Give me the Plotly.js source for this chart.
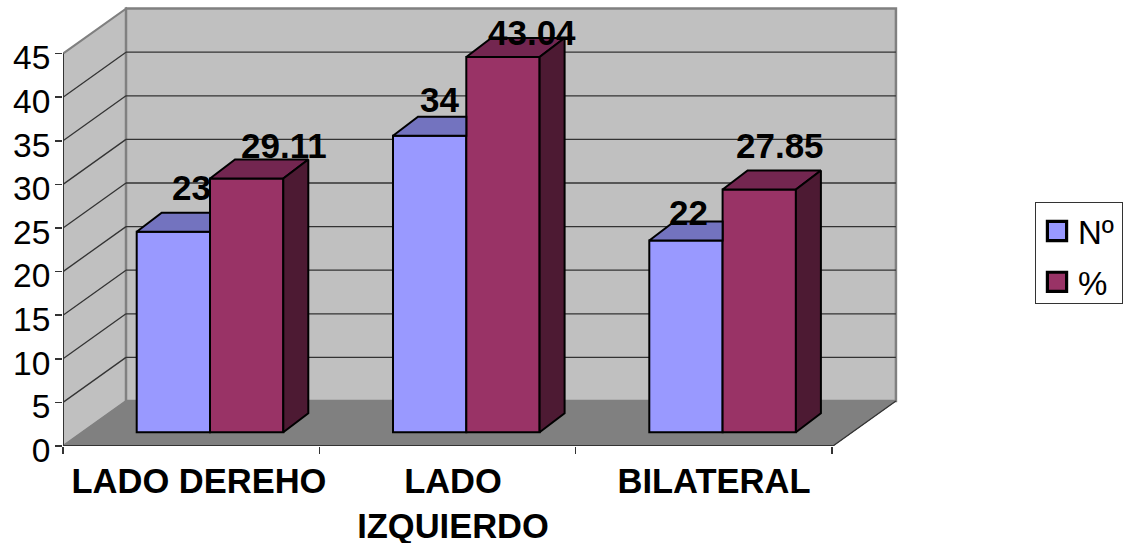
<!DOCTYPE html>
<html>
<head>
<meta charset="utf-8">
<script src="https://cdn.plot.ly/plotly-3.0.1.min.js"></script>
<style>html,body{margin:0;padding:0;background:#fff}#chart{width:1126px;height:543px}</style>
</head>
<body>
<div id="chart"></div>
<script>
// Values per category
var categories = ['LADO DEREHO', 'LADO<br>IZQUIERDO', 'BILATERAL'];
var countValues = [23, 34, 22];
var percentValues = [29.11, 43.04, 27.85];
var yTicks = [0, 5, 10, 15, 20, 25, 30, 35, 40, 45];

// Data-unit conversions for the oblique projection
var PX_X = 256.3, PX_Y = 8.72;
var wallDx = 63 / PX_X, wallDy = 45 / PX_Y;       // depth of the floor and side wall
var barDx = 25 / PX_X, barDy = 19 / PX_Y;         // depth of each column
var barBase = 13.7 / PX_Y;                        // columns stand a little back on the floor
var barStart = 73.7 / PX_X, barW = 73.3 / PX_X;   // offset inside a category, column width
var axisEnd = 3.004, yMax = 45;
var labelX = [136 / PX_X, 390 / PX_X, 651 / PX_X];

var BLACK = '#000000', WALL = '#C0C0C0', FLOOR = '#808080', EDGE = '#808080', GRID = '#333333';
var C1 = '#9999FF', C1_TOP = '#7373BF', C2 = '#993366', C2_TOP = '#732650', C2_SIDE = '#4D1A33';

function poly(pts, fill, lineColor, lineW) {
  return {
    type: 'path', layer: 'below', xref: 'x', yref: 'y',
    path: 'M' + pts.map(function (p) { return p[0] + ',' + p[1]; }).join('L') + 'Z',
    fillcolor: fill, line: {color: lineColor, width: lineW}
  };
}
function seg(x0, y0, x1, y1, color, w) {
  return {type: 'line', layer: 'below', xref: 'x', yref: 'y', x0: x0, y0: y0, x1: x1, y1: y1, line: {color: color, width: w}};
}

// Walls, floor and gridlines
var shapes = [
  poly([[0, 0], [wallDx, wallDy], [wallDx, yMax + wallDy], [0, yMax]], WALL, EDGE, 2),
  poly([[wallDx, wallDy], [axisEnd + wallDx, wallDy], [axisEnd + wallDx, yMax + wallDy], [wallDx, yMax + wallDy]], WALL, EDGE, 2.5)
];
yTicks.forEach(function (v) {
  if (v > 0 && v < yMax) {
    shapes.push(seg(0, v, wallDx, v + wallDy, GRID, 1.3));
    shapes.push(seg(wallDx, v + wallDy, axisEnd + wallDx, v + wallDy, GRID, 1.3));
  }
});
shapes.push(poly([[0, 0], [axisEnd, 0], [axisEnd + wallDx, wallDy], [wallDx, wallDy]], FLOOR, FLOOR, 1));
shapes.push(seg(axisEnd, 0, axisEnd + wallDx, wallDy, GRID, 1.3));

var xs = categories.map(function (_, i) { return i + barStart; });
var xCount = xs.map(function (x) { return x + barW / 2; });
var xPercent = xs.map(function (x) { return x + barW * 1.5; });

var traces = [
  {type: 'bar', name: 'Nº', legendgroup: 'a', x: xCount, y: countValues, base: barBase, width: barW,
   marker: {color: C1, line: {color: BLACK, width: 2}}, hoverinfo: 'skip'},
  {type: 'bar', name: '%', legendgroup: 'b', x: xPercent, y: percentValues, base: barBase, width: barW,
   marker: {color: C2, line: {color: BLACK, width: 2}}, hoverinfo: 'skip'}
];

function face(pts, fill) {
  traces.push({
    type: 'scatter', mode: 'lines', showlegend: false, hoverinfo: 'skip', fill: 'toself', fillcolor: fill,
    x: pts.map(function (p) { return p[0]; }).concat(pts[0][0]),
    y: pts.map(function (p) { return p[1]; }).concat(pts[0][1]),
    line: {color: BLACK, width: 2, shape: 'linear'}
  });
}

categories.forEach(function (_, i) {
  var x0 = xs[i], x1 = x0 + barW, x2 = x1 + barW;
  var a = barBase + countValues[i], b = barBase + percentValues[i];
  // The shorter column's top runs back behind its taller neighbour
  face([[x0, a], [x1, a], [x1, a + barDy], [x0 + barDx, a + barDy]], C1_TOP);
  face([[x1, b], [x2, b], [x2 + barDx, b + barDy], [x1 + barDx, b + barDy]], C2_TOP);
  face([[x2, barBase], [x2, b], [x2 + barDx, b + barDy], [x2 + barDx, barBase + barDy]], C2_SIDE);
});

// Axis lines along the front edge
traces.push({type: 'scatter', mode: 'lines', showlegend: false, hoverinfo: 'skip', cliponaxis: false,
  x: [0, 0], y: [0, yMax], line: {color: GRID, width: 2}});
traces.push({type: 'scatter', mode: 'lines', showlegend: false, hoverinfo: 'skip', cliponaxis: false,
  x: [0, axisEnd], y: [0, 0], line: {color: GRID, width: 2}});

// Value labels sit above and behind each column
var shiftCount = [[18, 44], [10, 36], [3, 28]];
var shiftPercent = [[37, 33], [29, 24], [21, 44]];
var annotations = [];
function addLabels(xv, vals, shifts) {
  vals.forEach(function (v, i) {
    annotations.push({x: xv[i], y: barBase + v, xref: 'x', yref: 'y', text: String(v), showarrow: false,
      xanchor: 'center', yanchor: 'middle', xshift: shifts[i][0], yshift: shifts[i][1],
      font: {family: 'Liberation Sans, Arial, sans-serif', size: 35, color: BLACK, weight: 'bold'}});
  });
}
addLabels(xCount, countValues, shiftCount);
addLabels(xPercent, percentValues, shiftPercent);

var layout = {
  width: 1126, height: 543, paper_bgcolor: '#FFFFFF', plot_bgcolor: '#FFFFFF',
  margin: {l: 63, r: 226, t: 4, b: 97, pad: 0},
  barmode: 'overlay', showlegend: true, shapes: shapes, annotations: annotations,
  font: {family: 'Liberation Sans, Arial, sans-serif', color: BLACK},
  xaxis: {
    range: [0, (900 - 63) / PX_X], showgrid: false, zeroline: false, showline: false, fixedrange: true,
    tickmode: 'array', tickvals: labelX, ticktext: categories,
    ticks: 'outside', ticklen: 5, tickcolor: 'rgba(0,0,0,0)', tickwidth: 1,
    tickfont: {size: 34.5, color: BLACK, weight: 'bold'},
    minor: {ticks: 'outside', ticklen: 7, tickwidth: 1.5, tickcolor: GRID, tickmode: 'array', tickvals: [0, 1, 2, 3], showgrid: false}
  },
  yaxis: {
    range: [0, (446 - 4) / PX_Y], showgrid: false, zeroline: false, showline: false, fixedrange: true,
    tickmode: 'array', tickvals: yTicks, ticks: 'outside', ticklen: 7, tickwidth: 1.5, tickcolor: GRID,
    tickfont: {size: 33.5, color: BLACK}, ticklabelstandoff: -2, ticklabelshift: 4
  },
  legend: {
    xref: 'container', yref: 'container', x: 1035 / 1126, y: 1 - 202 / 543, xanchor: 'left', yanchor: 'top',
    bgcolor: '#FFFFFF', bordercolor: '#333333', borderwidth: 1,
    font: {size: 33, color: BLACK}, traceorder: 'grouped', tracegroupgap: 5, itemclick: false, itemdoubleclick: false
  }
};

Plotly.newPlot('chart', traces, layout, {displayModeBar: false, staticPlot: true}).then(function (gd) {
  // Larger legend swatches, and a box fitted closely around the entries
  gd.querySelectorAll('.legend .legendpoints path').forEach(function (p) {
    p.setAttribute('transform', 'translate(21,0) scale(1.6)');
  });
  gd.querySelectorAll('.legend .legendtext').forEach(function (t) {
    t.setAttribute('x', String(parseFloat(t.getAttribute('x')) + 2));
  });
  var bg = gd.querySelector('.legend .bg');
  if (bg) { bg.setAttribute('height', '101'); bg.setAttribute('width', '87'); }
});
</script>
</body>
</html>
